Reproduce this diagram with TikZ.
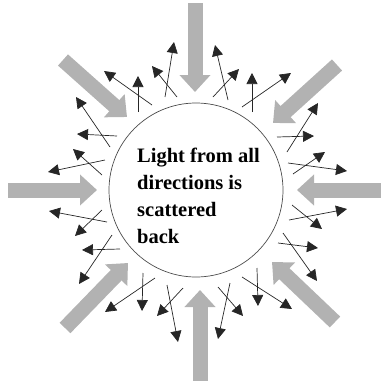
\documentclass[tikz,border=0pt]{standalone}
\usepackage{fontspec}
\setmainfont{Liberation Serif}
\usepackage{tikz}
\usetikzlibrary{arrows.meta, positioning}
\tikzset{
  lightbeam/.style={
    -{Triangle[length=17pt, width=30pt]}, line width=15pt, color=gray!60
  },
  scatterray/.style={
    -{Triangle[length=11pt, width=11pt]}, line width=0.7pt, color=black!85
  },
  sphere/.style={
    circle, draw=black!70, line width=0.7pt, minimum size=174pt, inner sep=0pt
  },
  spheretext/.style={
    align=left, font=\fontsize{20.5}{27}\selectfont\bfseries, inner sep=0pt
  },
}

\begin{document}
\begin{tikzpicture}[x=1pt, y=-1pt]
  \useasboundingbox (0,0) rectangle (381,381);

  % ── Scattering sphere ──
  \node[sphere] (ball) at (196,190) {};
  \node[spheretext, anchor=base west] (caption) at (137,243)
    {Light from all\\directions is\\scattered\\back};

  % ── Incoming light (gray) ──
  \draw[lightbeam] (195,3) -- (195,92);
  \draw[lightbeam] (337,65) -- (273,123);
  \draw[lightbeam] (381,190) -- (297,190);
  \draw[lightbeam] (335,322) -- (272,262);
  \draw[lightbeam] (200,381) -- (200,290);
  \draw[lightbeam] (65,328) -- (128,263);
  \draw[lightbeam] (8,190) -- (97,190);
  \draw[lightbeam] (63,60) -- (127,117);

  % ── Scattered light, top left ──
  \draw[scatterray] (165,97) -- (174,42);
  \draw[scatterray] (177,97) -- (152,66);
  \draw[scatterray] (138,112) -- (138,76);
  \draw[scatterray] (152,105) -- (104,71);
  \draw[scatterray] (110,147) -- (76,97);
  \draw[scatterray] (117,136) -- (77,134);
  \draw[scatterray] (102,175) -- (73,149);
  \draw[scatterray] (105,160) -- (48,172);

  % ── Scattered light, top right ──
  \draw[scatterray] (228,100) -- (215,45);
  \draw[scatterray] (213,97) -- (239,69);
  \draw[scatterray] (252,112) -- (252,73);
  \draw[scatterray] (242,107) -- (291,73);
  \draw[scatterray] (287,152) -- (318,103);
  \draw[scatterray] (277,137) -- (314,136);
  \draw[scatterray] (293,174) -- (325,152);
  \draw[scatterray] (288,163) -- (347,171);

  % ── Scattered light, bottom left ──
  \draw[scatterray] (107,222) -- (49,211);
  \draw[scatterray] (102,210) -- (75,236);
  \draw[scatterray] (120,249) -- (82,250);
  \draw[scatterray] (112,235) -- (79,284);
  \draw[scatterray] (155,278) -- (105,312);
  \draw[scatterray] (143,273) -- (142,311);
  \draw[scatterray] (183,288) -- (157,316);
  \draw[scatterray] (167,285) -- (178,342);

  % ── Scattered light, bottom right ──
  \draw[scatterray] (289,220) -- (347,209);
  \draw[scatterray] (292,205) -- (322,229);
  \draw[scatterray] (278,243) -- (318,248);
  \draw[scatterray] (283,233) -- (317,281);
  \draw[scatterray] (242,277) -- (292,309);
  \draw[scatterray] (257,268) -- (258,306);
  \draw[scatterray] (218,287) -- (243,316);
  \draw[scatterray] (230,283) -- (218,339);
\end{tikzpicture}
\end{document}
